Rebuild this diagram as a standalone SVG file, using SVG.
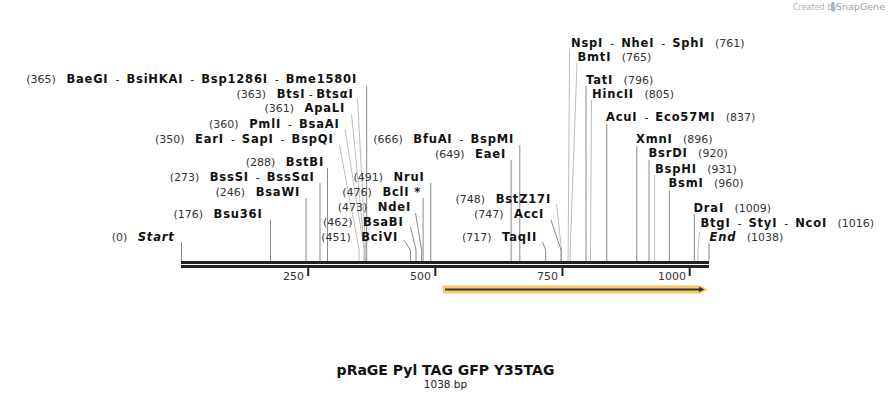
<svg xmlns="http://www.w3.org/2000/svg" width="891" height="400" viewBox="0 0 891 400">
<style>
text{font-family:"DejaVu Sans",Verdana,sans-serif;font-size:11px;fill:#111;white-space:pre}
.L{text-anchor:end}
.num{fill:#333;font-weight:normal}
.b{font-weight:bold;font-size:11.5px;letter-spacing:0.8px}
.i{font-weight:bold;font-style:italic;font-size:11.5px;letter-spacing:0.8px}
.tk{fill:#333;text-anchor:end}
.ln{fill:none;stroke:#8a8a8a;stroke-width:1}
.lt{fill:none;stroke:#bdbdbd;stroke-width:1}
</style>
<rect width="891" height="400" fill="#fff"/>
<g id="credit">
<text x="793" y="10" style="font-size:8px;fill:#b0b0b0">Created by</text>
<rect x="831" y="2" width="3.5" height="9" rx="1.5" fill="#9fb5c8"/>
<text x="836" y="10" style="font-size:9.5px;fill:#a0a0a0">SnapGene</text>
</g>
<g id="connectors">
<polyline class="ln" points="366.7,86 366.7,261"/>
<polyline class="lt" points="357.5,99 365.7,249 365.7,261"/>
<polyline class="lt" points="351.5,114 364.6,249 364.6,261"/>
<polyline class="lt" points="345,129 364.1,249 364.1,261"/>
<polyline class="lt" points="339.5,145 359,249 359,261"/>
<polyline class="ln" points="327.5,168 327.5,261"/>
<polyline class="ln" points="320,183 320,261"/>
<polyline class="ln" points="306,198 306,261"/>
<polyline class="ln" points="270.5,220 270.5,261"/>
<polyline class="ln" points="181.5,242 181.5,261"/>
<polyline class="ln" points="430.8,183 430.8,261"/>
<polyline class="ln" points="423.1,198 423.1,261"/>
<polyline class="ln" points="415.5,213 421.6,250 421.6,261"/>
<polyline class="ln" points="410.5,227 416,250 416,261"/>
<polyline class="ln" points="404,240 410.4,250 410.4,261"/>
<polyline class="ln" points="519.8,145 519.8,261"/>
<polyline class="ln" points="511.1,160 511.1,261"/>
<polyline class="lt" points="556.5,204 561.5,250 561.5,261"/>
<polyline class="ln" points="551,220 561,250 561,261"/>
<polyline class="ln" points="542.5,242 545.7,250 545.7,261"/>
<polyline class="lt" points="569.5,50 568.1,261"/>
<polyline class="lt" points="577,63 570.2,250 570.2,261"/>
<polyline class="ln" points="586,86 586,261"/>
<polyline class="lt" points="591.5,100 590.5,250 590.5,261"/>
<polyline class="ln" points="606.8,124 606.8,261"/>
<polyline class="ln" points="636.8,146 636.8,261"/>
<polyline class="ln" points="649,160 649,261"/>
<polyline class="lt" points="654.6,175 654.6,261"/>
<polyline class="ln" points="669.4,190 669.4,261"/>
<polyline class="ln" points="694.3,214 694.3,261"/>
<polyline class="lt" points="699.5,232 697.8,251 697.8,261"/>
<polyline class="ln" points="709,243 709,261"/>
</g>
<g id="ruler">
<rect x="181" y="261" width="528" height="3" fill="#222"/>
<rect x="181" y="265" width="528" height="3" fill="#222"/>
<rect x="307.2" y="268" width="2" height="8" fill="#222"/>
<rect x="434.3" y="268" width="2" height="8" fill="#222"/>
<rect x="561.5" y="268" width="2" height="8" fill="#222"/>
<rect x="688.7" y="268" width="2" height="8" fill="#222"/>
<text class="tk" x="304" y="280">250</text>
<text class="tk" x="431" y="280">500</text>
<text class="tk" x="558" y="280">750</text>
<text class="tk" x="686" y="280">1000</text>
</g>
<g id="feature">
<polygon points="443,286 700,286 707,289.5 700,293 443,293" fill="#fcc96e" stroke="#f5b84f" stroke-width="0.8"/>
<line x1="445" y1="289.5" x2="701" y2="289.5" stroke="#333" stroke-width="2"/>
<polygon points="699,286.8 704.5,289.5 699,292.2" fill="#333"/>
</g>
<g id="n365"><text class="L" x="357" y="83"><tspan class="num">(365)   </tspan><tspan class="b">BaeGI</tspan>  -  <tspan class="b">BsiHKAI</tspan>  -  <tspan class="b">Bsp1286I</tspan>  -  <tspan class="b">Bme1580I</tspan></text></g>
<g id="n363"><text class="L" x="353.5" y="98"><tspan class="num">(363)   </tspan><tspan class="b">BtsI</tspan> - <tspan class="b">BtsαI</tspan></text></g>
<g id="n361"><text class="L" x="345" y="112"><tspan class="num">(361)   </tspan><tspan class="b">ApaLI</tspan></text></g>
<g id="n360"><text class="L" x="339.5" y="128"><tspan class="num">(360)   </tspan><tspan class="b">PmlI</tspan>  -  <tspan class="b">BsaAI</tspan></text></g>
<g id="n350"><text class="L" x="333.5" y="143"><tspan class="num">(350)   </tspan><tspan class="b">EarI</tspan>  -  <tspan class="b">SapI</tspan>  -  <tspan class="b">BspQI</tspan></text></g>
<g id="n288"><text class="L" x="324" y="166"><tspan class="num">(288)   </tspan><tspan class="b">BstBI</tspan></text></g>
<g id="n273"><text class="L" x="314.5" y="181"><tspan class="num">(273)   </tspan><tspan class="b">BssSI</tspan>  -  <tspan class="b">BssSαI</tspan></text></g>
<g id="n246"><text class="L" x="300" y="196"><tspan class="num">(246)   </tspan><tspan class="b">BsaWI</tspan></text></g>
<g id="n176"><text class="L" x="262.5" y="218"><tspan class="num">(176)   </tspan><tspan class="b">Bsu36I</tspan></text></g>
<g id="n0"><text class="L" x="174.5" y="241"><tspan class="num">(0)   </tspan><tspan class="i">Start</tspan></text></g>
<g id="n491"><text class="L" x="424.5" y="181"><tspan class="num">(491)   </tspan><tspan class="b">NruI</tspan></text></g>
<g id="n476"><text class="L" x="421" y="196"><tspan class="num">(476)   </tspan><tspan class="b">BclI *</tspan></text></g>
<g id="n473"><text class="L" x="411" y="211"><tspan class="num">(473)   </tspan><tspan class="b">NdeI</tspan></text></g>
<g id="n462"><text class="L" x="403.5" y="226"><tspan class="num">(462)   </tspan><tspan class="b">BsaBI</tspan></text></g>
<g id="n451"><text class="L" x="398" y="241"><tspan class="num">(451)   </tspan><tspan class="b">BciVI</tspan></text></g>
<g id="n666"><text class="L" x="514" y="143"><tspan class="num">(666)   </tspan><tspan class="b">BfuAI</tspan>  -  <tspan class="b">BspMI</tspan></text></g>
<g id="n649"><text class="L" x="506" y="158"><tspan class="num">(649)   </tspan><tspan class="b">EaeI</tspan></text></g>
<g id="n748"><text class="L" x="551" y="203"><tspan class="num">(748)   </tspan><tspan class="b">BstZ17I</tspan></text></g>
<g id="n747"><text class="L" x="544" y="218"><tspan class="num">(747)   </tspan><tspan class="b">AccI</tspan></text></g>
<g id="n717"><text class="L" x="537" y="241"><tspan class="num">(717)   </tspan><tspan class="b">TaqII</tspan></text></g>
<g id="n761"><text x="571" y="47"><tspan class="b">NspI</tspan>  -  <tspan class="b">NheI</tspan>  -  <tspan class="b">SphI</tspan><tspan class="num">   (761)</tspan></text></g>
<g id="n765"><text x="577.5" y="61"><tspan class="b">BmtI</tspan><tspan class="num">   (765)</tspan></text></g>
<g id="n796"><text x="586" y="84"><tspan class="b">TatI</tspan><tspan class="num">   (796)</tspan></text></g>
<g id="n805"><text x="592" y="98"><tspan class="b">HincII</tspan><tspan class="num">   (805)</tspan></text></g>
<g id="n837"><text x="606" y="121"><tspan class="b">AcuI</tspan>  -  <tspan class="b">Eco57MI</tspan><tspan class="num">   (837)</tspan></text></g>
<g id="n896"><text x="636" y="143"><tspan class="b">XmnI</tspan><tspan class="num">   (896)</tspan></text></g>
<g id="n920"><text x="648.5" y="157"><tspan class="b">BsrDI</tspan><tspan class="num">   (920)</tspan></text></g>
<g id="n931"><text x="655" y="173"><tspan class="b">BspHI</tspan><tspan class="num">   (931)</tspan></text></g>
<g id="n960"><text x="668.5" y="187"><tspan class="b">BsmI</tspan><tspan class="num">   (960)</tspan></text></g>
<g id="n1009"><text x="693.5" y="212"><tspan class="b">DraI</tspan><tspan class="num">   (1009)</tspan></text></g>
<g id="n1016"><text x="700.5" y="227"><tspan class="b">BtgI</tspan>  -  <tspan class="b">StyI</tspan>  -  <tspan class="b">NcoI</tspan><tspan class="num">   (1016)</tspan></text></g>
<g id="n1038"><text x="709.5" y="241"><tspan class="i">End</tspan><tspan class="num">   (1038)</tspan></text></g>
<g id="title">
<text x="445.5" y="375" style="text-anchor:middle;font-size:14px;font-weight:bold">pRaGE Pyl TAG GFP Y35TAG</text>
<text x="445.5" y="388" style="text-anchor:middle;font-size:10.5px;fill:#222">1038 bp</text>
</g>
</svg>
